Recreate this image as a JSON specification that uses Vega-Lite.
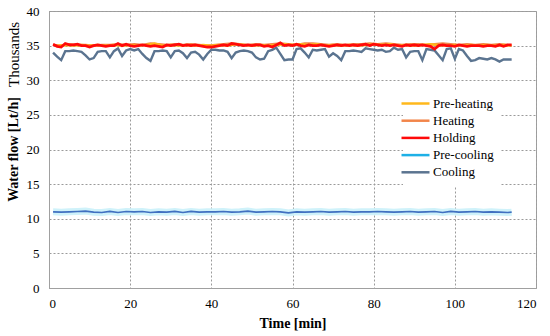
{
  "$schema": "https://vega.github.io/schema/vega-lite/v6.json",
  "width": 487,
  "height": 277,
  "autosize": {"type": "none"},
  "padding": {"left": 49, "top": 11, "right": 14, "bottom": 48},
  "background": "white",
  "config": {
    "view": {"stroke": "#A0A0A0", "strokeWidth": 1},
    "axis": {"labelFont": "Liberation Serif", "titleFont": "Liberation Serif", "labelColor": "black", "titleColor": "black", "labelFontSize": 13, "titleFontSize": 14},
    "legend": {"labelFont": "Liberation Serif", "labelFontSize": 13, "labelColor": "black"}
  },
  "data": {
    "values": [
      {"t":1,"Cooling":34.0,"Holding":35.2,"Heating":35.1,"Pre-cooling":11.0},
      {"t":2,"Cooling":33.4,"Holding":34.9,"Pre-heating":35.0},
      {"t":3,"Cooling":32.9,"Holding":34.8,"Heating":35.0,"Pre-cooling":10.95},
      {"t":4,"Cooling":34.2,"Holding":35.3,"Pre-heating":35.1},
      {"t":5,"Cooling":34.2,"Holding":35.1,"Heating":35.2,"Pre-cooling":11.0},
      {"t":6,"Cooling":34.3,"Holding":35.1,"Pre-heating":35.0},
      {"t":7,"Cooling":34.2,"Holding":35.2,"Heating":35.1,"Pre-cooling":11.05},
      {"t":8,"Cooling":34.1,"Holding":35.0,"Pre-heating":35.1},
      {"t":9,"Cooling":33.6,"Holding":35.0,"Heating":35.1,"Pre-cooling":11.1},
      {"t":10,"Cooling":33.0,"Holding":34.8,"Pre-heating":35.0},
      {"t":11,"Cooling":33.2,"Holding":35.0,"Heating":35.0,"Pre-cooling":10.95},
      {"t":12,"Cooling":34.1,"Holding":35.1,"Pre-heating":35.1},
      {"t":13,"Cooling":34.2,"Holding":35.0,"Heating":35.1,"Pre-cooling":10.9},
      {"t":14,"Cooling":34.2,"Holding":34.9,"Pre-heating":35.0},
      {"t":15,"Cooling":33.3,"Holding":35.0,"Heating":35.1,"Pre-cooling":11.05},
      {"t":16,"Cooling":34.2,"Holding":35.0,"Pre-heating":35.1},
      {"t":17,"Cooling":34.6,"Holding":35.3,"Heating":35.2,"Pre-cooling":10.9},
      {"t":18,"Cooling":33.5,"Holding":35.0,"Pre-heating":35.0},
      {"t":19,"Cooling":34.3,"Holding":35.2,"Heating":35.1,"Pre-cooling":11.05},
      {"t":20,"Cooling":34.5,"Holding":35.0,"Pre-heating":35.1},
      {"t":21,"Cooling":34.3,"Holding":34.9,"Heating":35.2,"Pre-cooling":11.0},
      {"t":22,"Cooling":34.5,"Holding":35.0,"Pre-heating":35.0},
      {"t":23,"Cooling":33.8,"Holding":35.1,"Heating":35.1,"Pre-cooling":11.05},
      {"t":24,"Cooling":33.2,"Holding":35.0,"Pre-heating":35.1},
      {"t":25,"Cooling":32.8,"Holding":34.9,"Heating":35.3,"Pre-cooling":10.9},
      {"t":26,"Cooling":34.2,"Holding":35.0,"Pre-heating":35.3},
      {"t":27,"Cooling":34.2,"Holding":34.9,"Heating":35.2,"Pre-cooling":11.0},
      {"t":28,"Cooling":34.3,"Holding":34.8,"Pre-heating":35.0},
      {"t":29,"Cooling":34.2,"Holding":35.1,"Heating":35.1,"Pre-cooling":10.95},
      {"t":30,"Cooling":33.3,"Holding":35.0,"Pre-heating":35.1},
      {"t":31,"Cooling":34.2,"Holding":35.1,"Heating":35.2,"Pre-cooling":11.05},
      {"t":32,"Cooling":34.3,"Holding":35.2,"Pre-heating":35.0},
      {"t":33,"Cooling":33.9,"Holding":35.0,"Heating":35.1,"Pre-cooling":10.9},
      {"t":34,"Cooling":33.2,"Holding":35.1,"Pre-heating":35.1},
      {"t":35,"Cooling":34.0,"Holding":35.0,"Heating":35.2,"Pre-cooling":11.05},
      {"t":36,"Cooling":34.1,"Holding":35.1,"Pre-heating":35.0},
      {"t":37,"Cooling":33.7,"Holding":35.0,"Heating":35.1,"Pre-cooling":10.95},
      {"t":38,"Cooling":33.0,"Holding":34.9,"Pre-heating":35.1},
      {"t":39,"Cooling":33.8,"Holding":34.8,"Heating":35.0,"Pre-cooling":11.0},
      {"t":40,"Cooling":34.4,"Holding":34.8,"Pre-heating":35.0},
      {"t":41,"Cooling":34.4,"Holding":34.9,"Heating":35.1,"Pre-cooling":11.0},
      {"t":42,"Cooling":34.3,"Holding":35.0,"Pre-heating":35.1},
      {"t":43,"Cooling":34.3,"Holding":35.1,"Heating":35.2,"Pre-cooling":11.05},
      {"t":44,"Cooling":34.1,"Holding":35.0,"Pre-heating":35.0},
      {"t":45,"Cooling":33.2,"Holding":35.3,"Heating":35.3,"Pre-cooling":10.95},
      {"t":46,"Cooling":34.0,"Holding":35.2,"Pre-heating":35.2},
      {"t":47,"Cooling":34.2,"Holding":35.1,"Heating":35.2,"Pre-cooling":11.0},
      {"t":48,"Cooling":34.3,"Holding":35.0,"Pre-heating":35.1},
      {"t":49,"Cooling":34.2,"Holding":35.1,"Heating":35.1,"Pre-cooling":11.1},
      {"t":50,"Cooling":34.0,"Holding":35.0,"Pre-heating":35.0},
      {"t":51,"Cooling":33.3,"Holding":35.1,"Heating":35.2,"Pre-cooling":10.95},
      {"t":52,"Cooling":33.0,"Holding":35.1,"Pre-heating":35.1},
      {"t":53,"Cooling":33.1,"Holding":34.9,"Heating":35.1,"Pre-cooling":11.0},
      {"t":54,"Cooling":34.2,"Holding":35.0,"Pre-heating":35.0},
      {"t":55,"Cooling":34.4,"Holding":34.8,"Heating":35.2,"Pre-cooling":11.05},
      {"t":56,"Cooling":34.7,"Holding":35.1,"Pre-heating":35.1},
      {"t":57,"Cooling":33.8,"Holding":35.4,"Heating":35.3,"Pre-cooling":11.0},
      {"t":58,"Cooling":32.9,"Holding":35.0,"Pre-heating":35.2},
      {"t":59,"Cooling":33.0,"Holding":35.1,"Heating":35.2,"Pre-cooling":10.85},
      {"t":60,"Cooling":33.0,"Holding":35.0,"Pre-heating":35.1},
      {"t":61,"Cooling":34.5,"Holding":35.2,"Heating":35.1,"Pre-cooling":11.0},
      {"t":62,"Cooling":34.6,"Holding":35.0,"Pre-heating":35.2},
      {"t":63,"Cooling":34.0,"Holding":34.9,"Heating":35.3,"Pre-cooling":10.95},
      {"t":64,"Cooling":33.3,"Holding":35.1,"Pre-heating":35.1},
      {"t":65,"Cooling":34.4,"Holding":35.0,"Heating":35.3,"Pre-cooling":11.0},
      {"t":66,"Cooling":34.3,"Holding":35.0,"Pre-heating":35.2},
      {"t":67,"Cooling":34.4,"Holding":35.1,"Heating":35.2,"Pre-cooling":11.05},
      {"t":68,"Cooling":34.5,"Holding":35.0,"Pre-heating":35.0},
      {"t":69,"Cooling":33.4,"Holding":34.9,"Heating":35.1,"Pre-cooling":10.95},
      {"t":70,"Cooling":33.9,"Holding":35.0,"Pre-heating":35.1},
      {"t":71,"Cooling":33.5,"Holding":35.1,"Heating":35.2,"Pre-cooling":11.0},
      {"t":72,"Cooling":32.9,"Holding":35.0,"Pre-heating":35.0},
      {"t":73,"Cooling":34.2,"Holding":35.1,"Heating":35.1,"Pre-cooling":11.05},
      {"t":74,"Cooling":34.2,"Holding":35.0,"Pre-heating":35.1},
      {"t":75,"Cooling":34.3,"Holding":35.1,"Heating":35.2,"Pre-cooling":10.95},
      {"t":76,"Cooling":34.2,"Holding":35.0,"Pre-heating":35.0},
      {"t":77,"Cooling":34.1,"Holding":35.1,"Heating":35.2,"Pre-cooling":11.0},
      {"t":78,"Cooling":34.6,"Holding":35.2,"Pre-heating":35.1},
      {"t":79,"Cooling":34.5,"Holding":35.0,"Heating":35.3,"Pre-cooling":11.0},
      {"t":80,"Cooling":34.4,"Holding":35.2,"Pre-heating":35.2},
      {"t":81,"Cooling":34.3,"Holding":35.1,"Heating":35.2,"Pre-cooling":11.05},
      {"t":82,"Cooling":34.4,"Holding":35.0,"Pre-heating":35.1},
      {"t":83,"Cooling":34.1,"Holding":35.1,"Heating":35.3,"Pre-cooling":11.0},
      {"t":84,"Cooling":34.2,"Holding":35.0,"Pre-heating":35.2},
      {"t":85,"Cooling":34.7,"Holding":35.1,"Heating":35.2,"Pre-cooling":10.95},
      {"t":86,"Cooling":34.4,"Holding":35.0,"Pre-heating":35.0},
      {"t":87,"Cooling":34.5,"Holding":34.9,"Heating":35.1,"Pre-cooling":11.0},
      {"t":88,"Cooling":33.3,"Holding":35.1,"Pre-heating":35.1},
      {"t":89,"Cooling":34.1,"Holding":35.0,"Heating":35.2,"Pre-cooling":11.05},
      {"t":90,"Cooling":34.2,"Holding":35.1,"Pre-heating":35.0},
      {"t":91,"Cooling":34.2,"Holding":35.0,"Heating":35.2,"Pre-cooling":10.95},
      {"t":92,"Cooling":32.9,"Holding":35.1,"Pre-heating":35.1},
      {"t":93,"Cooling":34.5,"Holding":35.0,"Heating":35.1,"Pre-cooling":11.0},
      {"t":94,"Cooling":34.4,"Holding":34.9,"Pre-heating":35.2},
      {"t":95,"Cooling":34.3,"Holding":34.5,"Heating":35.2,"Pre-cooling":11.05},
      {"t":96,"Cooling":33.6,"Holding":35.0,"Pre-heating":35.1},
      {"t":97,"Cooling":32.9,"Holding":35.1,"Heating":35.3,"Pre-cooling":10.9},
      {"t":98,"Cooling":34.5,"Holding":35.0,"Pre-heating":35.0},
      {"t":99,"Cooling":34.6,"Holding":35.0,"Heating":35.2,"Pre-cooling":11.05},
      {"t":100,"Cooling":33.1,"Holding":34.9,"Pre-heating":35.1},
      {"t":101,"Cooling":34.5,"Holding":35.1,"Heating":35.1,"Pre-cooling":10.95},
      {"t":102,"Cooling":34.3,"Holding":35.0,"Pre-heating":35.0},
      {"t":103,"Cooling":33.5,"Holding":34.9,"Heating":35.2,"Pre-cooling":11.0},
      {"t":104,"Cooling":32.8,"Holding":35.0,"Pre-heating":35.1},
      {"t":105,"Cooling":32.9,"Holding":35.0,"Heating":35.1,"Pre-cooling":11.05},
      {"t":106,"Cooling":33.2,"Holding":35.0,"Pre-heating":35.0},
      {"t":107,"Cooling":33.1,"Holding":34.9,"Heating":35.2,"Pre-cooling":10.95},
      {"t":108,"Cooling":33.0,"Holding":35.0,"Pre-heating":35.1},
      {"t":109,"Cooling":33.2,"Holding":35.0,"Heating":35.1,"Pre-cooling":11.0},
      {"t":110,"Cooling":33.0,"Holding":34.9,"Pre-heating":35.0},
      {"t":111,"Cooling":32.7,"Holding":35.1,"Heating":35.2,"Pre-cooling":10.95},
      {"t":112,"Cooling":33.0,"Holding":34.9,"Pre-heating":35.1},
      {"t":113,"Cooling":33.0,"Holding":35.1,"Heating":35.1,"Pre-cooling":10.9},
      {"t":114,"Cooling":33.0,"Holding":35.1,"Pre-heating":35.0,"Pre-cooling":10.95}
    ]
  },
  "encoding": {
    "x": {
      "field": "t", "type": "quantitative",
      "scale": {"domain": [0, 120], "nice": false},
      "axis": {
        "title": "Time [min]", "titleFontWeight": "bold",
        "values": [0, 20, 40, 60, 80, 100, 120],
        "grid": true, "gridColor": "#9A9A9A", "gridDash": [2, 2], "gridWidth": 1,
        "domainColor": "#A0A0A0", "ticks": false, "labelPadding": 9,
        "titlePadding": 6
      }
    }
  },
  "layer": [
    {
      "transform": [{"filter": "isValid(datum['Pre-cooling'])"}],
      "mark": {"type": "line", "color": "#CFF2FA", "strokeWidth": 7},
      "encoding": {
        "y": {
          "field": "Pre-cooling", "type": "quantitative",
          "scale": {"domain": [0, 40], "nice": false},
          "axis": {
            "orient": "left", "title": "Thousands", "titleFontWeight": "normal", "titleFontSize": 15,
            "labels": false, "ticks": false, "domain": false, "grid": false,
            "titleX": -36, "titleY": 43, "titleAngle": 270, "titleAlign": "center", "titleBaseline": "middle"
          }
        }
      }
    },
    {
      "transform": [
        {"fold": ["Cooling", "Pre-heating", "Heating"], "as": ["series", "value"]},
        {"filter": "isValid(datum.value)"}
      ],
      "mark": {"type": "line", "strokeWidth": 2.4},
      "encoding": {
        "y": {
          "field": "value", "type": "quantitative",
          "scale": {"domain": [0, 40], "nice": false},
          "axis": {
            "orient": "left", "title": "Water flow [Lt/h]", "titleFontWeight": "bold",
            "values": [0, 5, 10, 15, 20, 25, 30, 35, 40],
            "grid": true, "gridColor": "#9A9A9A", "gridDash": [2, 2], "gridWidth": 1,
            "domainColor": "#A0A0A0", "ticks": false, "labelPadding": 10,
            "titleX": -36, "titleY": 138, "titleAngle": 270, "titleAlign": "center", "titleBaseline": "middle"
          }
        },
        "color": {
          "field": "series", "type": "nominal",
          "scale": {
            "domain": ["Pre-heating", "Heating", "Holding", "Pre-cooling", "Cooling"],
            "range": ["#FFB81C", "#F2854A", "#FF0A0A", "#1EB0E6", "#5B7490"]
          },
          "legend": {
            "orient": "none", "legendX": 354, "legendY": 80, "title": null,
            "fillColor": "white", "padding": 6,
            "symbolType": "M-2.8,0L2.8,0", "symbolSize": 100, "symbolStrokeWidth": 2.5,
            "labelFont": "Liberation Serif", "labelFontSize": 13, "labelColor": "black",
            "rowPadding": 3.2, "labelOffset": 11
          }
        },
        "strokeWidth": {
          "field": "series", "type": "nominal",
          "scale": {"domain": ["Pre-heating", "Heating", "Cooling"], "range": [2.4, 2.4, 2]},
          "legend": null
        }
      }
    },
    {
      "transform": [{"filter": "isValid(datum['Pre-cooling'])"}],
      "mark": {"type": "line", "color": "#4070C0", "strokeWidth": 1.7},
      "encoding": {
        "y": {"field": "Pre-cooling", "type": "quantitative", "scale": {"domain": [0, 40], "nice": false}, "axis": null}
      }
    },
    {
      "mark": {"type": "line", "color": "#FF0A0A", "strokeWidth": 2.8},
      "encoding": {
        "y": {"field": "Holding", "type": "quantitative", "scale": {"domain": [0, 40], "nice": false}, "axis": null}
      }
    }
  ],
  "resolve": {"axis": {"y": "independent"}}
}
